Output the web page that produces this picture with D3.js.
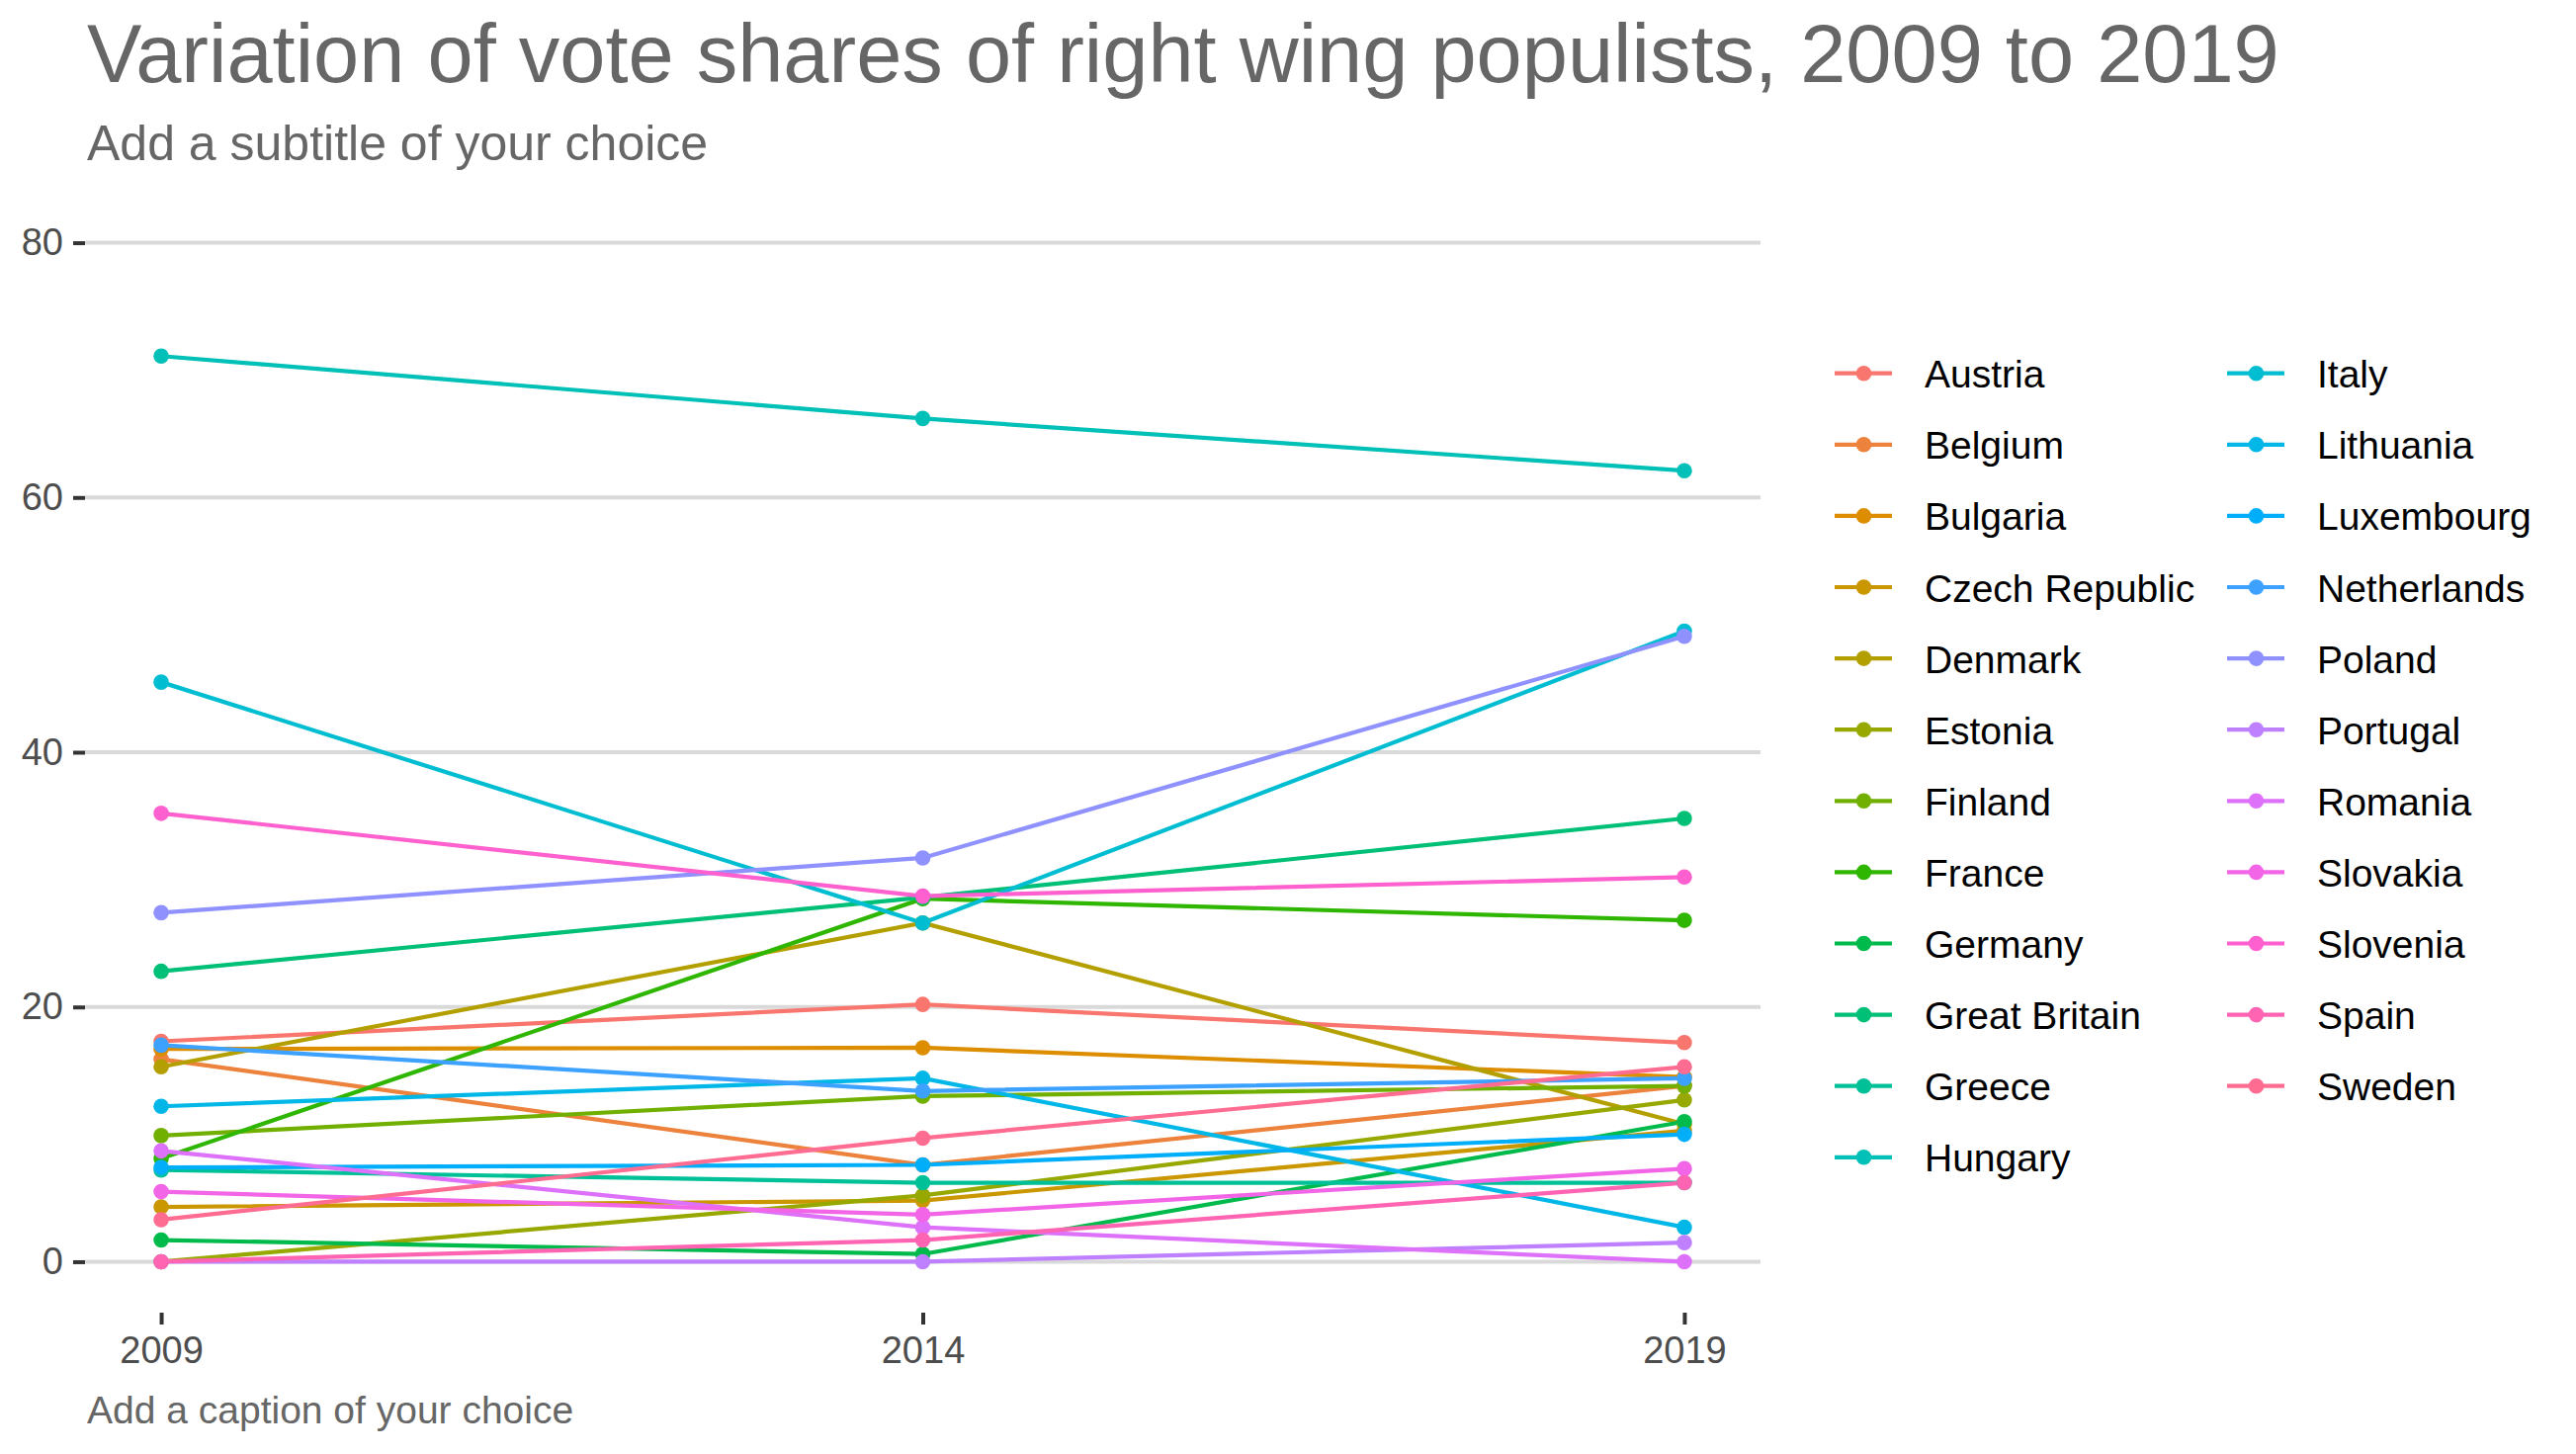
<!DOCTYPE html>
<html>
<head>
<meta charset="utf-8">
<script src="https://cdn.jsdelivr.net/npm/d3@7"></script>
<style>
  body { margin: 0; background: #ffffff; }
  text { font-family: "Liberation Sans", Arial, sans-serif; }
</style>
</head>
<body>
<div id="chart"></div>
<script>
// data (vote share, %)
var countries = ["Austria", "Belgium", "Bulgaria", "Czech Republic", "Denmark", "Estonia",
    "Finland", "France", "Germany", "Great Britain", "Greece", "Hungary", "Italy",
    "Lithuania", "Luxembourg", "Netherlands", "Poland", "Portugal", "Romania",
    "Slovakia", "Slovenia", "Spain", "Sweden"];
var years = [2009, 2014, 2019];
var share2009 = [17.3, 15.9, 16.7, 4.3, 15.3, 0, 9.9, 8.1, 1.7, 22.8, 7.2, 71.1, 45.5,
    12.2, 7.4, 17.0, 27.4, 0, 8.7, 5.5, 35.2, 0, 3.3];
var share2014 = [20.2, 7.6, 16.8, 4.8, 26.6, 5.2, 13.0, 28.5, 0.6, 28.6, 6.2, 66.2, 26.6,
    14.4, 7.6, 13.4, 31.7, 0, 2.7, 3.7, 28.7, 1.7, 9.7];
var share2019 = [17.2, 13.8, 14.5, 10.3, 10.8, 12.7, 13.8, 26.8, 11.0, 34.8, 6.2, 62.1, 49.5,
    2.7, 10.0, 14.4, 49.1, 1.5, 0, 7.3, 30.2, 6.2, 15.3];
var yTicks = [0, 20, 40, 60, 80];

var titleText = "Variation of vote shares of right wing populists, 2009 to 2019";
var subtitleText = "Add a subtitle of your choice";
var captionText = "Add a caption of your choice";

// ggplot-like hue palette (polar LUV -> sRGB)
function hueColor(h) {
    var L = 65, C = 100;
    var hr = h * Math.PI / 180;
    var U = C * Math.cos(hr), V = C * Math.sin(hr);
    var Xn = 95.047, Yn = 100, Zn = 108.883;
    var Y = Yn * Math.pow((L + 16) / 116, 3);
    var t = Xn + 15 * Yn + 3 * Zn;
    var un = 4 * Xn / t, vn = 9 * Yn / t;
    var up = U / (13 * L) + un, vp = V / (13 * L) + vn;
    var X = 9 * Y * up / (4 * vp);
    var Z = -X / 3 - 5 * Y + 3 * Y / vp;
    X /= 100; Y /= 100; Z /= 100;
    var rgb = [
        3.240479 * X - 1.537150 * Y - 0.498535 * Z,
        -0.969256 * X + 1.875992 * Y + 0.041556 * Z,
        0.055648 * X - 0.204043 * Y + 1.057311 * Z
    ].map(function(v) {
        v = v <= 0.0031308 ? 12.92 * v : 1.055 * Math.pow(v, 1 / 2.4) - 0.055;
        return Math.round(Math.max(0, Math.min(1, v)) * 255);
    });
    return d3.rgb(rgb[0], rgb[1], rgb[2]).formatHex();
}

var palette = countries.map(function(d, i) { return hueColor(15 + 360 * i / countries.length); });
var color = d3.scaleOrdinal().domain(countries).range(palette);

var series = countries.map(function(c, i) {
    return {
        country: c,
        values: [share2009[i], share2014[i], share2019[i]].map(function(v, j) {
            return { year: years[j], value: v };
        })
    };
});

var width = 2606, height = 1471;
var panel = { left: 86, right: 1781, top: 194, bottom: 1328 };

var svg = d3.select("#chart")
    .append("svg")
    .attr("width", width)
    .attr("height", height);

svg.append("rect").attr("width", width).attr("height", height).attr("fill", "#ffffff");

var x = d3.scaleLinear()
    .domain([2008.5, 2019.5])
    .range([panel.left, panel.right]);

var y = d3.scaleLinear()
    .domain([-4, 84])
    .range([panel.bottom, panel.top]);

// horizontal grid
svg.append("g")
    .selectAll("line")
    .data(yTicks)
    .enter().append("line")
    .attr("x1", panel.left)
    .attr("x2", panel.right)
    .attr("y1", function(d) { return y(d); })
    .attr("y2", function(d) { return y(d); })
    .attr("stroke", "#d9d9d9")
    .attr("stroke-width", 4);

// axes
var yAxis = svg.append("g")
    .attr("transform", "translate(" + panel.left + ",0)")
    .call(d3.axisLeft(y).tickValues(yTicks).tickSize(12).tickPadding(10));

var xAxis = svg.append("g")
    .attr("transform", "translate(0," + panel.bottom + ")")
    .call(d3.axisBottom(x).tickValues(years).tickFormat(d3.format("d")).tickSize(12).tickPadding(12));

[xAxis, yAxis].forEach(function(ax) {
    ax.select(".domain").remove();
    ax.selectAll(".tick line").attr("stroke", "#333333").attr("stroke-width", 4);
    ax.selectAll(".tick text")
        .attr("fill", "#4d4d4d")
        .style("font-size", "38px")
        .style("font-family", "'Liberation Sans', Arial, sans-serif");
});

// lines then points
var line = d3.line()
    .x(function(d) { return x(d.year); })
    .y(function(d) { return y(d.value); });

svg.append("g")
    .selectAll("path")
    .data(series)
    .enter().append("path")
    .attr("d", function(d) { return line(d.values); })
    .attr("fill", "none")
    .attr("stroke", function(d) { return color(d.country); })
    .attr("stroke-width", 4.2);

svg.append("g")
    .selectAll("g")
    .data(series)
    .enter().append("g")
    .attr("fill", function(d) { return color(d.country); })
    .selectAll("circle")
    .data(function(d) { return d.values; })
    .enter().append("circle")
    .attr("cx", function(d) { return x(d.year); })
    .attr("cy", function(d) { return y(d.value); })
    .attr("r", 7.8);

// legend, two columns filled by column
var legendRows = 12;
var legend = svg.append("g")
    .selectAll("g")
    .data(countries)
    .enter().append("g")
    .attr("transform", function(d, i) {
        var col = Math.floor(i / legendRows), row = i % legendRows;
        return "translate(" + (1856 + col * 397) + "," + (377.7 + row * 72.1) + ")";
    });

legend.append("line")
    .attr("x1", 0)
    .attr("x2", 58)
    .attr("stroke", function(d) { return color(d); })
    .attr("stroke-width", 4.2);

legend.append("circle")
    .attr("cx", 29.5)
    .attr("r", 7.8)
    .attr("fill", function(d) { return color(d); });

legend.append("text")
    .attr("x", 91)
    .attr("y", 14.5)
    .attr("fill", "#000000")
    .style("font-size", "39px")
    .text(function(d) { return d; });

// titles
svg.append("text")
    .attr("x", 88)
    .attr("y", 83)
    .attr("fill", "#666666")
    .style("font-size", "83px")
    .text(titleText);

svg.append("text")
    .attr("x", 88)
    .attr("y", 162)
    .attr("fill", "#666666")
    .style("font-size", "50px")
    .text(subtitleText);

svg.append("text")
    .attr("x", 88)
    .attr("y", 1440)
    .attr("fill", "#666666")
    .style("font-size", "39px")
    .text(captionText);
</script>
</body>
</html>
